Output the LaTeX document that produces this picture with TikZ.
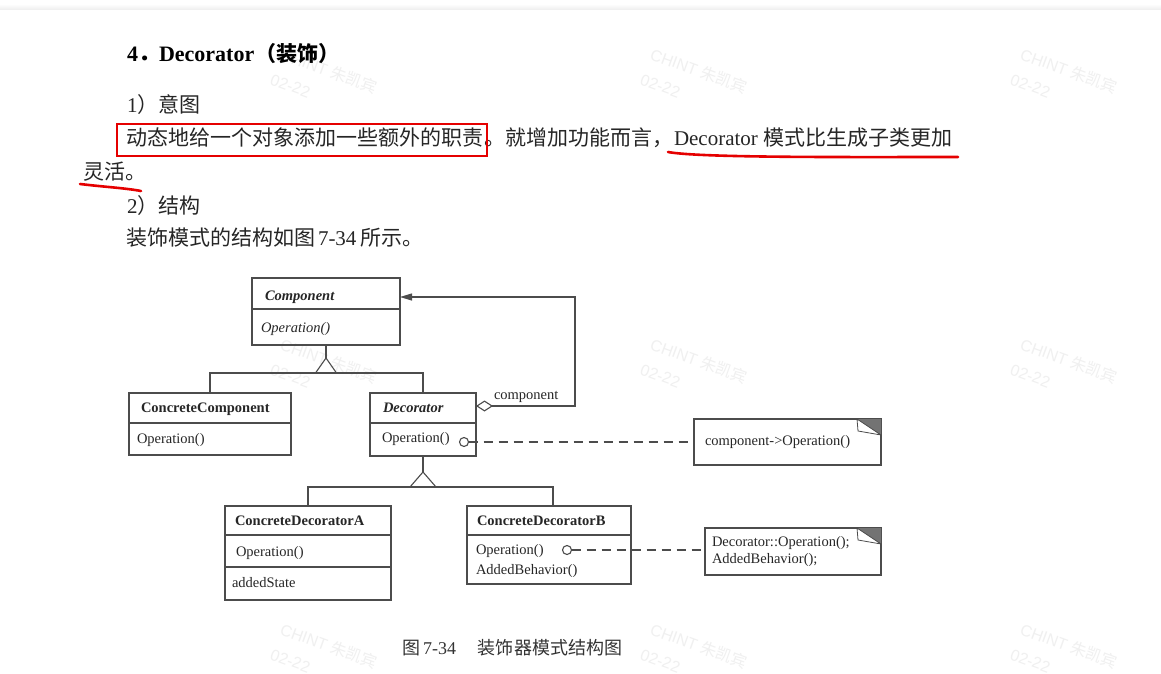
\documentclass[tikz,border=0pt]{standalone}
\usepackage{fontspec}
\setmainfont{Liberation Serif}
\setsansfont{Liberation Sans}
\newfontfamily\cjk{Noto Sans CJK SC}
\usetikzlibrary{arrows.meta,calc}
\begin{document}
\begin{tikzpicture}[x=1pt,y=-1pt,
  txt/.style={anchor=base west, inner sep=0pt, outer sep=0pt, text=black!85},
  body/.style={txt, font=\fontsize{21}{25}\selectfont},
  uml/.style={txt, font=\fontsize{14.5}{17}\selectfont},
  umlb/.style={txt, font=\bfseries\fontsize{14.5}{17}\selectfont},
  umli/.style={txt, font=\itshape\fontsize{14.5}{17}\selectfont},
  umlbi/.style={txt, font=\bfseries\itshape\fontsize{14.5}{17}\selectfont},
  cls/.style={draw=black!70, line width=1.1pt, rectangle, inner sep=0pt, outer sep=0pt},
  conn/.style={draw=black!70, line width=1.1pt},
  dashc/.style={conn, dash pattern=on 9pt off 6pt},
  port/.style={circle, draw=black!70, line width=1.1pt, fill=white, minimum size=9pt, inner sep=0pt, outer sep=0pt},
  redmark/.style={draw=red!90!black, line width=2.6pt, line cap=round},
  wm/.style={anchor=base west, inner sep=0pt, rotate=-20, text=black!6, font=\sffamily\fontsize{16}{19}\selectfont},
]
\fill[white] (0,0) rectangle (1161,674);
\useasboundingbox (0,0) rectangle (1161,674);
\shade[top color=white, bottom color=black!7] (0,4) rectangle (1161,10);

% watermarks
\foreach \x/\y [count=\i] in {283/47, 653/47, 1023/47, 283/337, 653/337, 1023/337, 283/622, 653/622, 1023/622} {
  \node[wm] (wa\i) at (\x-4,\y+12) {CHINT {\cjk 朱凯宾}};
  \node[wm] (wb\i) at (\x-14,\y+37) {02-22};
}

% text
\node[txt, font=\bfseries\fontsize{22}{26}\selectfont, text=black] (h1) at (127,62) {4{\cjk ．}};
\node[txt, font=\bfseries\fontsize{22}{26}\selectfont, text=black] (h2) at (159,62) {Decorator};
\node[txt, font=\cjk\bfseries\fontsize{21}{26}\selectfont, text=black] (h3) at (255,62) {（装饰）};
\node[body] (l1) at (127,113) {1{\cjk ）意图}};
\node[body] (l2) at (126,146) {{\cjk 动态地给一个对象添加一些额外的职责}\hspace{2pt}{\cjk 。就增加功能而言，}Decorator {\cjk 模式比生成子类更加}};
\node[body] (l3) at (83,179) {{\cjk 灵活。}};
\node[body] (l4) at (127,213) {2{\cjk ）结构}};
\node[body] (l5) at (126,245) {{\cjk 装饰模式的结构如图}\hspace{3pt}7-34\hspace{4pt}{\cjk 所示。}};

% red annotations
\draw[redmark, line cap=butt, line join=miter] (117,124) rectangle (487,156);
\draw[redmark] (668,152) .. controls (700,158) and (850,157) .. (958,157);
\draw[redmark] (80,184) .. controls (105,187) and (125,188) .. (141,191);

% classes
\node[cls, minimum width=148pt, minimum height=67pt] (comp) at (326,311.5) {};
\draw[conn] (comp.west |- 0,309) -- (comp.east |- 0,309);
\node[umlbi] (compn) at (265,300) {Component};
\node[umli] (compo) at (261,332) {Operation()};

\node[cls, minimum width=162pt, minimum height=62pt] (cc) at (210,424) {};
\draw[conn] (cc.west |- 0,423) -- (cc.east |- 0,423);
\node[umlb] (ccn) at (141,412) {ConcreteComponent};
\node[uml] (cco) at (137,443) {Operation()};

\node[cls, minimum width=106pt, minimum height=63pt] (dec) at (423,424.5) {};
\draw[conn] (dec.west |- 0,423) -- (dec.east |- 0,423);
\node[umlbi] (decn) at (383,412) {Decorator};
\node[uml] (deco) at (382,442) {Operation()};

\node[cls, minimum width=166pt, minimum height=94pt] (cda) at (308,553) {};
\draw[conn] (cda.west |- 0,535) -- (cda.east |- 0,535);
\draw[conn] (cda.west |- 0,567) -- (cda.east |- 0,567);
\node[umlb] (cdan) at (235,525) {ConcreteDecoratorA};
\node[uml] (cdao) at (236,556) {Operation()};
\node[uml] (cdas) at (232,587) {addedState};

\node[cls, minimum width=164pt, minimum height=78pt] (cdb) at (549,545) {};
\draw[conn] (cdb.west |- 0,535) -- (cdb.east |- 0,535);
\node[umlb] (cdbn) at (477,525) {ConcreteDecoratorB};
\node[uml] (cdbo) at (476,554) {Operation()};
\node[uml] (cdbb) at (476,574) {AddedBehavior()};

% notes
\node[cls, minimum width=187pt, minimum height=46pt] (n1) at (787.5,442) {};
\fill[black!55] (857,419) -- (881,419) -- (881,435) -- cycle;
\draw[conn, line width=0.8pt] (857,419) -- (881,435) (857,419) -- (858,431) -- (881,435);
\node[uml] (n1t) at (705,445) {component->Operation()};

\node[cls, minimum width=176pt, minimum height=47pt] (n2) at (793,551.5) {};
\fill[black!55] (857,528) -- (881,528) -- (881,544) -- cycle;
\draw[conn, line width=0.8pt] (857,528) -- (881,544) (857,528) -- (858,540) -- (881,544);
\node[uml] (n2a) at (712,546) {Decorator::Operation();};
\node[uml] (n2b) at (712,563) {AddedBehavior();};

% inheritance 1
\coordinate (t1) at (326,358);
\coordinate (t1b) at (326,373);
\draw[conn] (comp.south) -- (t1);
\draw[conn] (t1) -- ++(-10.5,15) (t1) -- ++(10.5,15);
\draw[conn] (cc.north) |- (t1b) -| (dec.north);

% inheritance 2
\coordinate (t2) at (423,472);
\coordinate (t2b) at (423,487);
\draw[conn] (dec.south) -- (t2);
\draw[conn] (t2) -- ++(-13,15) (t2) -- ++(13,15);
\draw[conn] (cda.north) |- (t2b) -| ($(cdb.north)+(4,0)$);

% aggregation
\coordinate (aggS) at ($(dec.north east)+(0,13)$);
\coordinate (aggE) at ($(comp.north east)+(0,19)$);
\coordinate (bend) at (575,297);
\draw[conn, {Diamond[open,fill=white,length=17pt,width=11pt]}-{Triangle[length=12pt,width=7pt]}] (aggS) -| (bend) -- (aggE);
\node[uml] (lbl) at (494,399) {component};

% implementation notes links
\node[port] (c1) at (464,442) {};
\node[port] (c2) at (567,550) {};
\draw[dashc] (c1.east) -- (c1.east -| n1.west);
\draw[dashc] (c2.east) -- (c2.east -| n2.west);

% caption
\node[txt, font=\fontsize{18}{21}\selectfont, text=black!80] (cap) at (402,654) {{\cjk 图}\hspace{3pt}7-34\hspace{22pt}{\cjk 装饰器模式结构图}};
\end{tikzpicture}
\end{document}
